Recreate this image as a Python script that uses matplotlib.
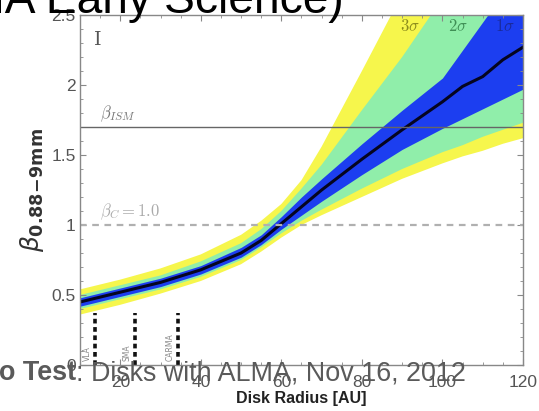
import matplotlib
matplotlib.use("Agg")
import matplotlib.pyplot as plt
from matplotlib.ticker import MultipleLocator

plt.rcParams["mathtext.fontset"] = "cm"

# Disk radius grid [AU]
radius = [10, 20, 30, 40, 50, 55, 60, 65, 70, 80, 90, 100, 105, 110, 115, 120]

# Median beta profile
beta_med = [0.45, 0.52, 0.59, 0.68, 0.80, 0.89, 1.01, 1.13, 1.25, 1.47, 1.68, 1.88,
            1.99, 2.06, 2.18, 2.27]

# Confidence envelopes (lower / upper)
s1_lo = [0.42, 0.49, 0.56, 0.65, 0.77, 0.86, 0.97, 1.07, 1.17, 1.36, 1.54, 1.69,
         1.76, 1.83, 1.90, 1.97]
s1_hi = [0.48, 0.55, 0.62, 0.71, 0.84, 0.93, 1.06, 1.20, 1.33, 1.58, 1.82, 2.05,
         2.25, 2.45, 2.65, 2.85]
s2_lo = [0.40, 0.47, 0.54, 0.63, 0.75, 0.84, 0.94, 1.03, 1.11, 1.26, 1.40, 1.52,
         1.57, 1.63, 1.68, 1.73]
s2_hi = [0.50, 0.57, 0.64, 0.74, 0.87, 0.97, 1.10, 1.26, 1.43, 1.82, 2.20, 2.62,
         2.85, 3.10, 3.30, 3.50]
s3_lo = [0.36, 0.43, 0.51, 0.60, 0.72, 0.81, 0.91, 1.00, 1.07, 1.20, 1.33, 1.44,
         1.49, 1.53, 1.58, 1.62]
s3_hi = [0.54, 0.61, 0.69, 0.79, 0.93, 1.03, 1.15, 1.32, 1.56, 2.10, 2.65, 3.20,
         3.45, 3.70, 3.95, 4.20]

beta_ism = 1.7
beta_c = 1.0

# Interferometer resolution limits
tel_names = ["VLA", "SMA", "CARMA"]
tel_radius = [13.7, 23.6, 34.3]
tel_top = 0.37

fig = plt.figure(figsize=(5.39, 4.11), dpi=100)
ax = fig.add_axes([0.1484, 0.1119, 0.8219, 0.8516])

c_yel = "#f6f64c"
c_grn = "#90eeaa"
c_blu = "#1c3ef0"

ax.fill_between(radius, s3_lo, s3_hi, color=c_yel, lw=0)
ax.fill_between(radius, s2_lo, s2_hi, color=c_grn, lw=0)
ax.fill_between(radius, s1_lo, s1_hi, color=c_blu, lw=0)
ax.plot(radius, beta_med, color="#050520", lw=2.2)

ax.axhline(beta_ism, color="#666666", lw=1.0)
ax.axhline(beta_c, color="#b0b0b0", lw=1.6, ls=(0, (3, 2.5)))

for name, r in zip(tel_names, tel_radius):
    ax.plot([r, r], [0, tel_top], color="#111111", lw=2.6, ls=(0, (1.3, 1.0)))
    ax.text(r - 1.9, 0.03, name, rotation=90, fontsize=5.5, color="#888888",
            ha="center", va="bottom")

ax.text(14.5, 2.32, "I", fontsize=14, color="#555555", family="DejaVu Serif",
        ha="center", va="center")
ax.text(15, 1.72, r"$\beta_{ISM}$", fontsize=12, color="#777777", va="bottom")
ax.text(15, 1.02, r"$\beta_C = 1.0$", fontsize=12, color="#aaaaaa", va="bottom")
ax.text(92, 2.42, r"$3\sigma$", fontsize=12, color="#8c8c1c", ha="center", va="center")
ax.text(103.8, 2.42, r"$2\sigma$", fontsize=12, color="#3f8f55", ha="center", va="center")
ax.text(115.5, 2.42, r"$1\sigma$", fontsize=12, color="#1a2a9a", ha="center", va="center")

ax.set_xlim(10, 120)
ax.set_ylim(0, 2.5)
ax.xaxis.set_major_locator(MultipleLocator(20))
ax.xaxis.set_minor_locator(MultipleLocator(5))
ax.yaxis.set_major_locator(MultipleLocator(0.5))
ax.yaxis.set_minor_locator(MultipleLocator(0.1))
ax.set_yticks([0, 0.5, 1, 1.5, 2, 2.5])
ax.set_yticklabels(["0", "0.5", "1", "1.5", "2", "2.5"])
ax.tick_params(which="both", direction="in", top=True, right=True,
               color="#888888", labelcolor="#555555")
ax.tick_params(axis="x", pad=7)
ax.tick_params(axis="y", pad=3)
ax.tick_params(which="major", length=4)
ax.tick_params(which="minor", length=2)
for lbl in ax.get_xticklabels() + ax.get_yticklabels():
    lbl.set_fontfamily("Liberation Sans")
    lbl.set_fontsize(12.5)
for s in ax.spines.values():
    s.set_color("#888888")
    s.set_linewidth(1.0)

ax.set_xlabel("Disk Radius [AU]", fontsize=11.5, fontweight="bold", color="#222222",
              family="Liberation Sans", labelpad=1)
ax.set_ylabel(r"$\beta_{\mathbf{0.88\!-\!9mm}}$", fontsize=18, color="#333333",
              labelpad=4, math_fontfamily="dejavusans")

# Slide text overlaid on the figure
fig.text(344 / 539, 1 - 13 / 411, "ALMA Early Science)", fontsize=33.2, color="black",
         family="Liberation Sans", ha="right", va="baseline")
t1 = fig.text(-1 / 539, 1 - 380 / 411, "o Test", fontsize=19.4, color="#5a5a5a",
              family="Liberation Sans", fontweight="bold", ha="left", va="baseline")
fig.canvas.draw()
bb = t1.get_window_extent()
fig.text(bb.x1 / 539, 1 - 380 / 411, ": Disks with ALMA, Nov 16, 2012", fontsize=19.4,
         color="#5a5a5a", family="Liberation Sans", ha="left", va="baseline")

fig.savefig("out.png", dpi=100)
